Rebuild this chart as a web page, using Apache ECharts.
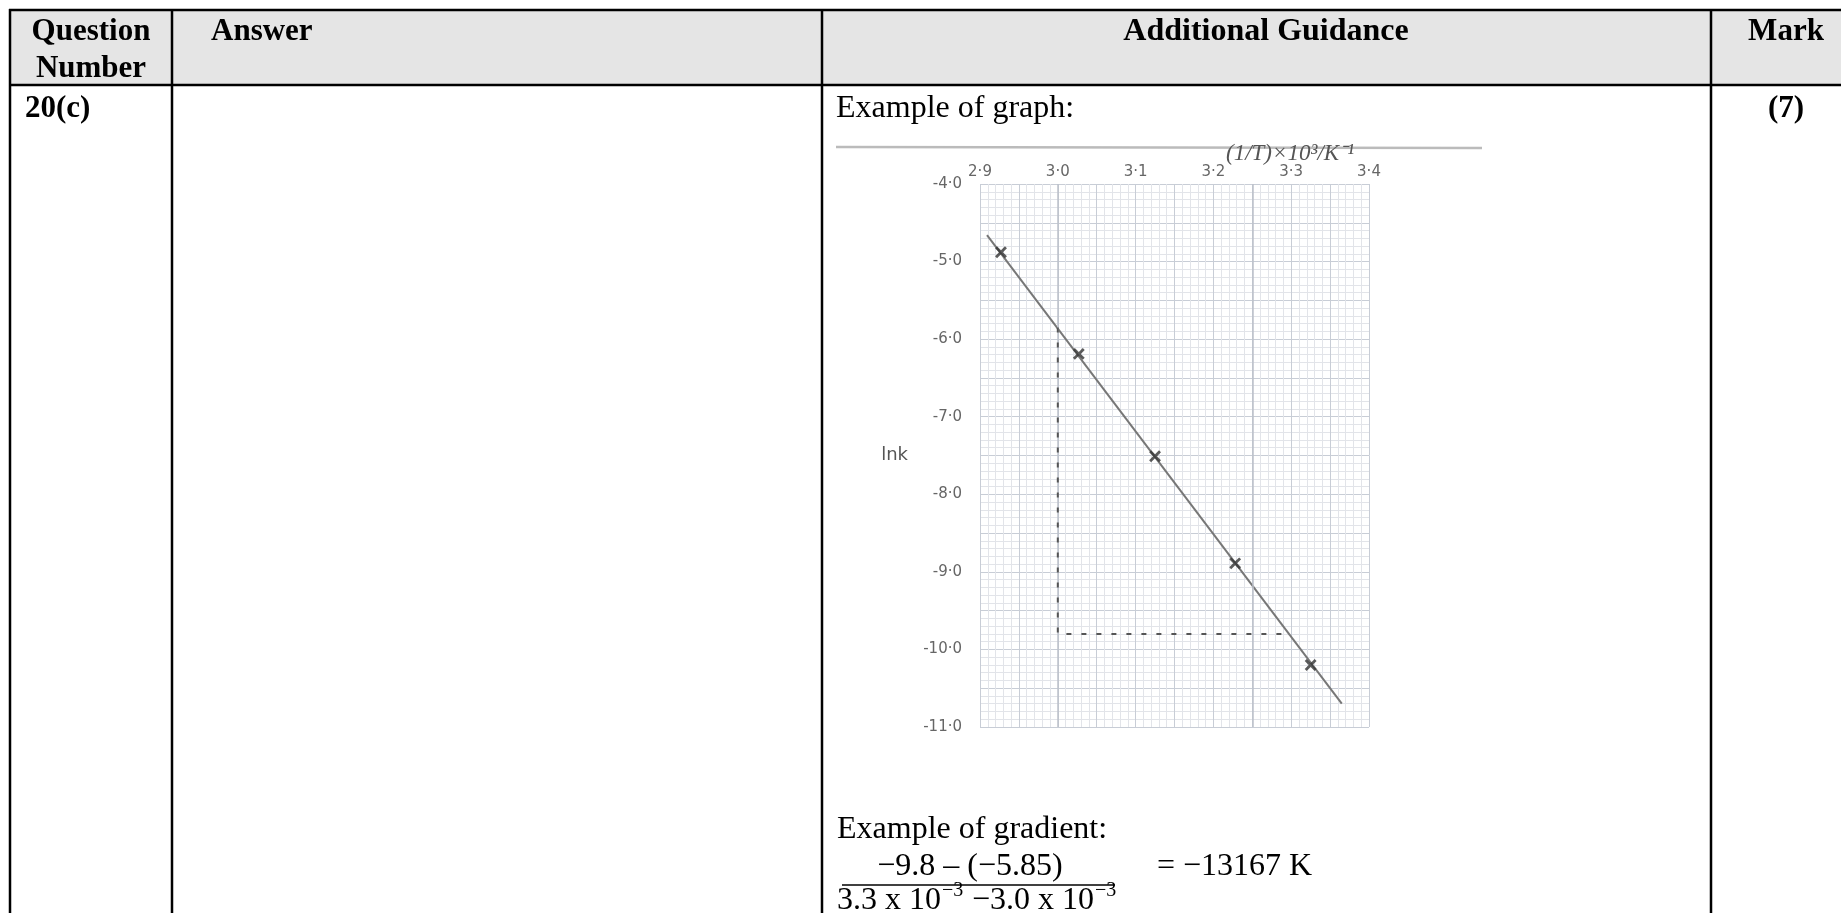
<!DOCTYPE html>
<html>
<head>
<meta charset="utf-8">
<title>20(c)</title>
<style>
html, body { margin: 0; padding: 0; background: #fff; }
#chartWrapper { width: 1841px; height: 913px; }
</style>
<script src="https://cdn.jsdelivr.net/npm/echarts@6/dist/echarts.min.js"></script>
</head>
<body>
<div id="chartWrapper"></div>
<script>
// points: [1/T x 10^3, lnk]
var points = [[2.927, -4.88], [3.027, -6.19], [3.125, -7.51], [3.228, -8.89], [3.325, -10.2]];
var bestFit = [[2.909, -4.66], [3.365, -10.7]];
var gradientX = [[3.0, -5.85], [3.0, -9.8], [3.3, -9.8]];
var heavyLines = [3.0, 3.25];
var xTickLabels = ['2·9', '3·0', '3·1', '3·2', '3·3', '3·4'];
var yTickLabels = ['-11·0', '-10·0', '-9·0', '-8·0', '-7·0', '-6·0', '-5·0', '-4·0'];

var serif = '"Liberation Serif", "Times New Roman", serif';
var myChart = echarts.init(document.getElementById('chartWrapper'));

// text helper, y is the baseline
function txt(str, x, y, opt) {
    opt = opt || {};
    var size = opt.size || 32;
    return {
        type: 'text',
        x: x,
        y: y - size * 0.33,
        z: 5,
        silent: true,
        style: {
            text: str,
            fill: opt.color || '#000',
            align: opt.align || 'left',
            verticalAlign: 'middle',
            font: (opt.italic ? 'italic ' : '') + (opt.bold ? 'bold ' : '') + size + 'px ' + serif
        }
    };
}

function rule(x1, y1, x2, y2, w, color) {
    return {
        type: 'line',
        z: 4,
        silent: true,
        shape: { x1: x1, y1: y1, x2: x2, y2: y2 },
        style: { stroke: color || '#000', lineWidth: w }
    };
}

var tableParts = [
    { type: 'rect', z: 1, silent: true, shape: { x: 10, y: 10, width: 1831, height: 74 }, style: { fill: '#e5e5e5' } },
    rule(9, 10, 1841, 10, 2.5),
    rule(9, 85, 1841, 85, 2.5),
    rule(10, 9, 10, 913, 2.5),
    rule(172, 9, 172, 913, 2.5),
    rule(822, 9, 822, 913, 2.5),
    rule(1711, 9, 1711, 913, 2.5),
    // ruled line above the graph, part of the scan
    rule(836, 147, 1482, 148, 2.5, '#bbbbbb'),
    rule(842, 885, 1115, 885, 1.5),
    txt('Question', 91, 42, { bold: true, size: 31, align: 'center' }),
    txt('Number', 91, 79, { bold: true, size: 31, align: 'center' }),
    txt('Answer', 211, 42, { bold: true, size: 31 }),
    txt('Additional Guidance', 1266, 42, { bold: true, align: 'center' }),
    txt('Mark', 1786, 42, { bold: true, size: 31, align: 'center' }),
    txt('20(c)', 25, 119, { bold: true, size: 31 }),
    txt('(7)', 1786, 119, { bold: true, size: 31, align: 'center' }),
    txt('Example of graph:', 836, 119),
    txt('(1/T)×10³/K⁻¹', 1226, 162, { size: 23, italic: true, color: '#555' }),
    txt('Example of gradient:', 837, 840),
    txt('−9.8 – (−5.85)', 970, 877, { align: 'center' }),
    txt('= −13167 K', 1157, 877),
    txt('3.3 x 10', 837, 911),
    txt('−3', 942, 897, { size: 20 }),
    txt('−3.0 x 10', 972, 911),
    txt('−3', 1095, 897, { size: 20 })
];

var option = {
    animation: false,
    backgroundColor: '#fff',
    graphic: { elements: tableParts },
    grid: { left: 980, top: 184, width: 389, height: 543, show: false },
    xAxis: {
        type: 'value',
        position: 'top',
        min: 2.9,
        max: 3.4,
        interval: 0.05,
        axisLine: { show: false },
        axisTick: { show: false },
        axisLabel: {
            margin: 4,
            color: '#666',
            fontFamily: 'DejaVu Sans',
            fontSize: 15,
            formatter: function (v) {
                var k = (v - 2.9) / 0.1;
                return Math.abs(k - Math.round(k)) < 0.01 ? xTickLabels[Math.round(k)] : '';
            }
        },
        splitLine: { show: true, lineStyle: { color: '#c8cdd6', width: 1 } },
        minorTick: { show: false, splitNumber: 5 },
        minorSplitLine: { show: true, lineStyle: { color: '#e2e4e9', width: 1 } }
    },
    yAxis: {
        type: 'value',
        min: -11,
        max: -4,
        interval: 0.5,
        name: 'lnk',
        nameLocation: 'middle',
        nameRotate: 0,
        nameGap: 72,
        nameTextStyle: { color: '#555', fontFamily: 'DejaVu Sans', fontSize: 18, padding: [0, 0, 12, 0] },
        axisLine: { show: false },
        axisTick: { show: false },
        axisLabel: {
            margin: 18,
            color: '#666',
            fontFamily: 'DejaVu Sans',
            fontSize: 15,
            formatter: function (v) {
                var k = v + 11;
                return Math.abs(k - Math.round(k)) < 0.01 ? yTickLabels[Math.round(k)] : '';
            }
        },
        splitLine: { show: true, lineStyle: { color: '#c8cdd6', width: 1 } },
        minorTick: { show: false, splitNumber: 5 },
        minorSplitLine: { show: true, lineStyle: { color: '#e2e4e9', width: 1 } }
    },
    series: [{
        type: 'line',
        data: bestFit,
        symbol: 'none',
        silent: true,
        z: 4,
        lineStyle: { color: '#777', width: 2 },
        markLine: {
            silent: true,
            symbol: 'none',
            label: { show: false },
            lineStyle: { color: '#bcc1ca', width: 1.5, type: 'solid' },
            data: heavyLines.map(function (x) { return { xAxis: x }; })
        }
    }, {
        type: 'line',
        data: gradientX,
        symbol: 'none',
        silent: true,
        z: 6,
        lineStyle: { color: '#555', width: 2, type: [5, 10] }
    }, {
        type: 'scatter',
        data: points,
        symbol: 'path://M4 0h2v4h4v2h-4v4h-2v-4h-4v-2h4z',
        symbolRotate: 45,
        symbolSize: 14,
        silent: true,
        z: 7,
        itemStyle: { color: '#333' }
    }]
};

myChart.setOption(option);
</script>
</body>
</html>
